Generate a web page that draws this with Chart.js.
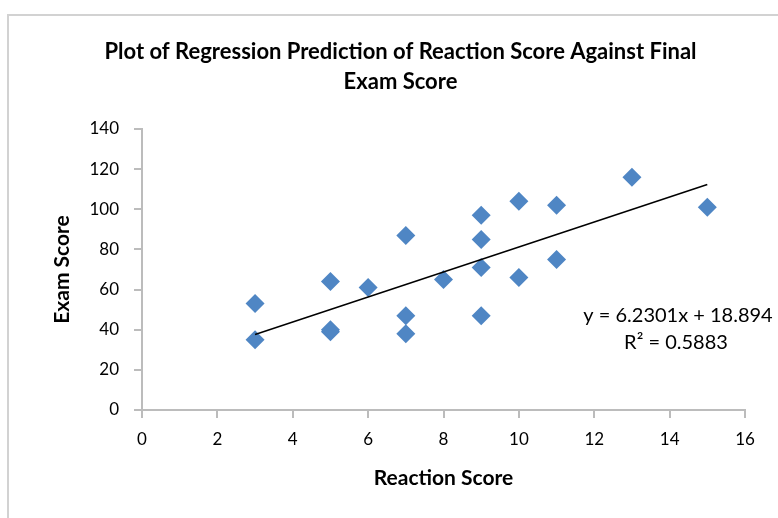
<!DOCTYPE html>
<html>
<head>
<meta charset="utf-8">
<script src="https://cdn.jsdelivr.net/npm/chart.js@4/dist/chart.umd.min.js"></script>
<style>
    body { margin: 0; background: #fff; }
    #wrap { position: relative; width: 778px; height: 518px; overflow: hidden; }
    #frame {
        position: absolute; left: 7px; top: 14px; width: 800px; height: 600px;
        border-left: 2px solid #d2d2d2; border-top: 2px solid #d2d2d2;
    }
    #grafica { position: absolute; left: 0; top: 0; }
</style>
</head>
<body>
<div id="wrap">
    <div id="frame"></div>
    <canvas id="grafica" width="778" height="518"></canvas>
</div>
<script>
const reactionScores = [3, 3, 5, 5, 5, 6, 7, 7, 7, 8, 9, 9, 9, 9, 10, 10, 11, 11, 13, 15];
const examScores = [53, 35, 64, 39, 40, 61, 87, 47, 38, 65, 97, 85, 71, 47, 104, 66, 102, 75, 116, 101];

// trendline ends (x = 3 and x = 15 from y = 6.2301x + 18.894)
const trendX = [3, 15];
const trendY = [37.58, 112.35];

const eqLines = ["y = 6.2301x + 18.894", "R\u00B2 = 0.5883"];

const xTicks = [0, 2, 4, 6, 8, 10, 12, 14, 16];
const yTicks = [0, 20, 40, 60, 80, 100, 120, 140];

const markerColor = "#4F86C4";
const axisColor = "#bcbcbc";
const fontName = "Lato";

const puntos = reactionScores.map((x, i) => ({ x: x, y: examScores[i] }));
const tendencia = trendX.map((x, i) => ({ x: x, y: trendY[i] }));

const ecuacion = {
    id: "ecuacion",
    afterDatasetsDraw(chart) {
        const ctx = chart.ctx;
        ctx.save();
        ctx.font = "20px " + fontName;
        ctx.fillStyle = "#000";
        ctx.textAlign = "center";
        ctx.textBaseline = "middle";
        ctx.fillText(eqLines[0], 678, 316);
        ctx.fillText(eqLines[1], 676, 343);
        ctx.restore();
    }
};

const grafica = new Chart(
    "grafica",
    {
        type: "scatter",
        data: {
            datasets: [
                {
                    label: "Linear trend",
                    data: tendencia,
                    showLine: true,
                    borderColor: "#000",
                    borderWidth: 1.5,
                    pointRadius: 0,
                    order: 0
                },
                {
                    label: "Exam Score",
                    data: puntos,
                    pointStyle: "rectRot",
                    pointRadius: 9.5,
                    pointHoverRadius: 9.5,
                    backgroundColor: markerColor,
                    borderColor: markerColor,
                    borderWidth: 0,
                    order: 1
                }
            ]
        },
        plugins: [ecuacion],
        options: {
            responsive: false,
            animation: false,
            layout: {
                padding: { left: 56, right: 33, top: 0, bottom: 0 }
            },
            scales: {
                x: {
                    type: "linear",
                    min: xTicks[0],
                    max: xTicks[xTicks.length - 1],
                    afterBuildTicks: (scale) => { scale.ticks = xTicks.map(v => ({ value: v })); },
                    afterFit: (scale) => { scale.height = 108; },
                    grid: { drawOnChartArea: false, color: axisColor, lineWidth: 2, tickLength: 8 },
                    border: { color: axisColor, width: 2 },
                    ticks: { color: "#000", padding: 11, font: { family: fontName, size: 17 } },
                    title: {
                        display: true,
                        text: "Reaction Score",
                        color: "#000",
                        font: { family: fontName, size: 21, weight: "bold" },
                        padding: { top: 0, bottom: 27 }
                    }
                },
                y: {
                    type: "linear",
                    min: yTicks[0],
                    max: yTicks[yTicks.length - 1],
                    afterBuildTicks: (scale) => { scale.ticks = yTicks.map(v => ({ value: v })); },
                    afterFit: (scale) => { scale.width = 86; },
                    grid: { drawOnChartArea: false, color: axisColor, lineWidth: 2, tickLength: 8 },
                    border: { color: axisColor, width: 2 },
                    ticks: { color: "#000", padding: 15, font: { family: fontName, size: 17 } },
                    title: {
                        display: true,
                        text: "Exam Score",
                        color: "#000",
                        font: { family: fontName, size: 21, weight: "bold" },
                        padding: { top: -6, bottom: 0 }
                    }
                }
            },
            plugins: {
                title: {
                    display: true,
                    text: ["Plot of Regression Prediction of Reaction Score Against Final", "Exam Score"],
                    color: "#000",
                    font: { family: fontName, size: 22, weight: "bold", lineHeight: "30px" },
                    padding: { top: 37, bottom: 32 }
                },
                legend: { display: false },
                tooltip: { enabled: false }
            }
        }
    }
);
</script>
</body>
</html>
